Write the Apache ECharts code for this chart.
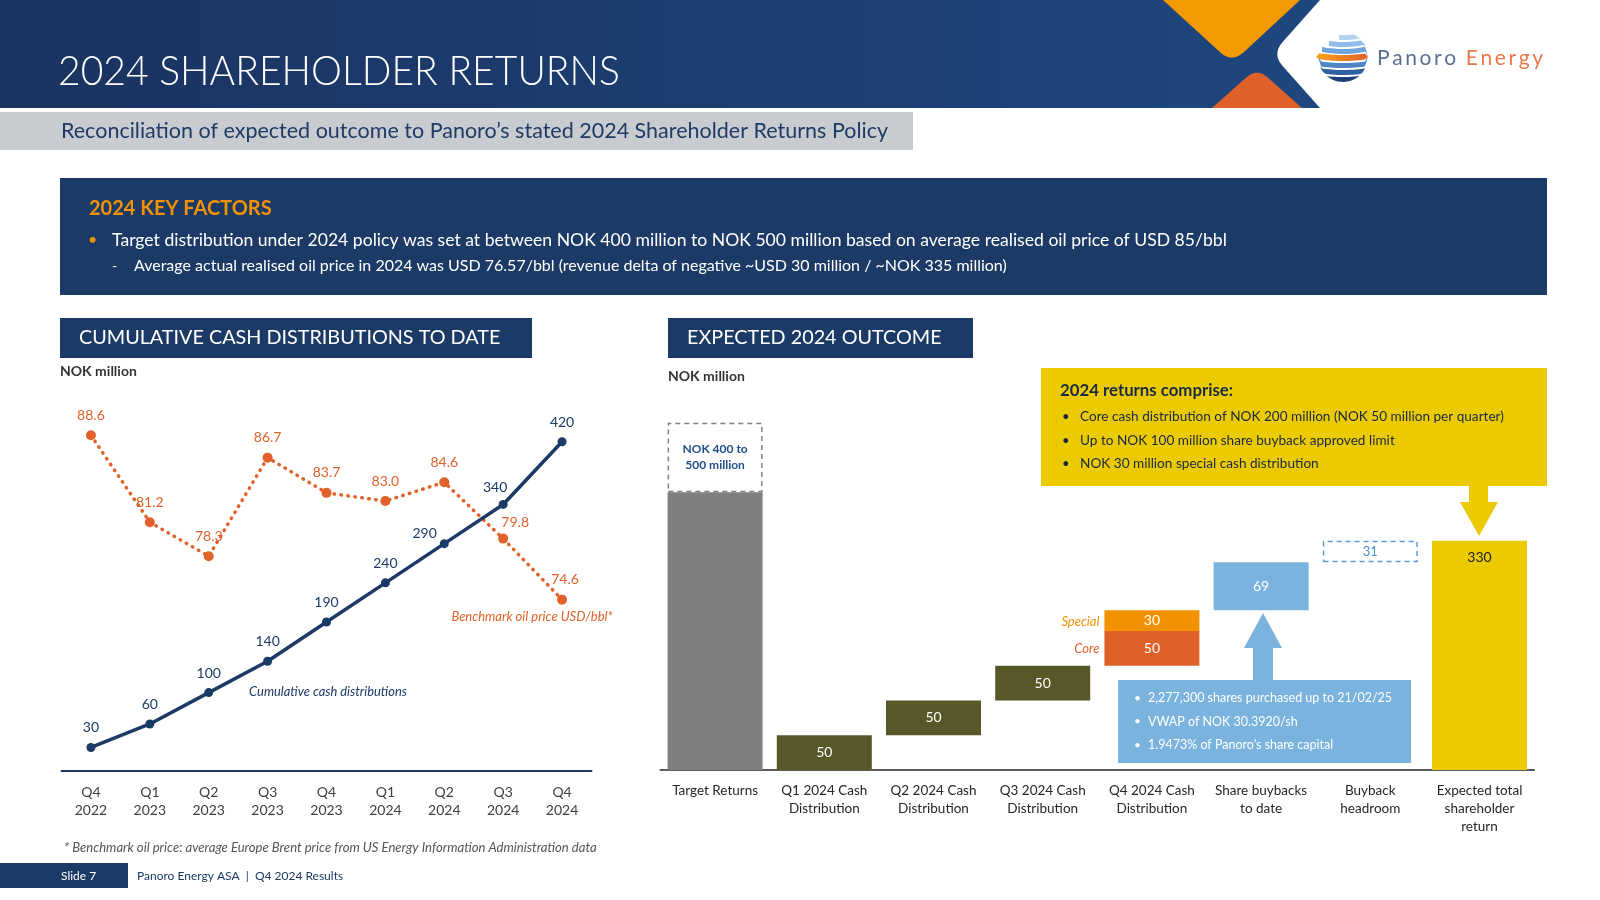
<!DOCTYPE html>
<html><head><meta charset="utf-8">
<script src="https://cdn.jsdelivr.net/npm/echarts@6/dist/echarts.min.js"></script>
<style>html,body{margin:0;padding:0;background:#fff}#c{width:1600px;height:900px}</style>
</head><body><div id="c"></div>
<script>
// ---------- DATA ----------
const quarters = ['Q4\n2022','Q1\n2023','Q2\n2023','Q3\n2023','Q4\n2023','Q1\n2024','Q2\n2024','Q3\n2024','Q4\n2024'];
const cumulativeDistributions = [30, 60, 100, 140, 190, 240, 290, 340, 420];
const benchmarkOilPrice = [88.6, 81.2, 78.3, 86.7, 83.7, 83.0, 84.6, 79.8, 74.6];

const outcomeCategories = ['Target Returns','Q1 2024 Cash\nDistribution','Q2 2024 Cash\nDistribution','Q3 2024 Cash\nDistribution','Q4 2024 Cash\nDistribution','Share buybacks\nto date','Buyback\nheadroom','Expected total\nshareholder\nreturn'];
const targetRange = [400, 500];
const coreDistributions = [50, 50, 50, 50];   // Q1..Q4 2024
const specialDistribution = 30;               // Q4 2024
const shareBuybacks = 69;
const buybackHeadroom = 31;
const expectedTotal = 330;

// ---------- BUILD WATERFALL ----------
const N = outcomeCategories.length;
const empty = () => new Array(N).fill('-');
const mainVals = [targetRange[0], ...coreDistributions, shareBuybacks, '-', expectedTotal];
const baseVals = new Array(N).fill(0);
let run = 0;
for (let i = 0; i < coreDistributions.length; i++) { baseVals[1 + i] = run; run += coreDistributions[i]; }
run += specialDistribution;
baseVals[5] = run; run += shareBuybacks;
baseVals[6] = run;
baseVals[7] = 0;
const specialVals = empty(); specialVals[4] = specialDistribution;
const headroomVals = empty(); headroomVals[6] = buybackHeadroom;
const targetExtraVals = empty(); targetExtraVals[0] = targetRange[1] - targetRange[0];

const FONT = 'Lato, "Open Sans", sans-serif';
const NAVY = '#1c3a66';
const ORANGE = '#e0622a';
const outcomeColors = ['#7f7f7f','#575728','#575728','#575728','#e0602a','#7ab3de','#ffffff','#ecca00'];

// ---------- helpers ----------
function rounded(pts, idxs, r){
  const out=[];
  pts.forEach((p,i)=>{
    if(!idxs.includes(i)){out.push(p);return;}
    const a=pts[(i-1+pts.length)%pts.length], b=pts[(i+1)%pts.length];
    const da=Math.hypot(a[0]-p[0],a[1]-p[1]), db=Math.hypot(b[0]-p[0],b[1]-p[1]);
    const p1=[p[0]+(a[0]-p[0])*r/da, p[1]+(a[1]-p[1])*r/da];
    const p2=[p[0]+(b[0]-p[0])*r/db, p[1]+(b[1]-p[1])*r/db];
    for(let k=0;k<=10;k++){const t=k/10,u=1-t;
      out.push([u*u*p1[0]+2*u*t*p[0]+t*t*p2[0], u*u*p1[1]+2*u*t*p[1]+t*t*p2[1]]);}
  });
  return out;
}
// curved stripe inside a circle (for the logo globe)
function band(cx,cy,r,y1,y2,xStart,bow){
  const top=[],bot=[];
  const x0=cx+xStart, x1=cx+r;
  for(let k=0;k<=16;k++){
    const x=x0+(x1-x0)*k/16; const dx=(x-cx)/r;
    const off=bow*(1-dx*dx);
    const lim=Math.sqrt(Math.max(0,r*r-(x-cx)*(x-cx)));
    const ya=Math.max(-lim, Math.min(lim, y1+off)), yb=Math.max(-lim, Math.min(lim, y2+off));
    top.push([x, cy+ya]); bot.push([x, cy+yb]);
  }
  return top.concat(bot.reverse());
}
function txt(x,y,text,o){
  o=o||{};
  const el = {type:'text', x:x, y:y, z:10, silent:true, style:Object.assign({text:text, fill:o.fill||'#333', font:(o.italic?'italic ':'')+(o.bold?'bold ':(o.weight?o.weight+' ':''))+(o.size||14)+'px '+FONT, textAlign:o.align||'left', textVerticalAlign:'middle'}, o.style||{})};
  if (o.scaleX) el.scaleX = o.scaleX;
  return el;
}

// ---------- static graphics ----------
const G = [];
G.push({type:'rect', shape:{x:0,y:0,width:1600,height:108}, silent:true, style:{fill:new echarts.graphic.LinearGradient(0,0,1,0,[{offset:0,color:'#1a3360'},{offset:1,color:'#1f4b85'}])}});
G.push({type:'polygon', silent:true, shape:{points:rounded([[1163,0],[1300,0],[1232,63]],[2],16)}, style:{fill:'#f39a00'}});
G.push({type:'polygon', silent:true, shape:{points:rounded([[1212,108],[1302,108],[1257,68]],[2],14)}, style:{fill:'#e0602a'}});
G.push({type:'polygon', silent:true, shape:{points:rounded([[1320,0],[1600,0],[1600,108],[1320,108],[1272,54]],[4],16)}, style:{fill:'#ffffff'}});
// globe logo
const gcx=1343, gcy=57, gr=25;
[[-25,-20,-4,3,'#b3d3f0'],[-18,-13,-14,3,'#8fbde8'],[-11,-6,-21,3,'#6ea6dc'],[-4,2,-27,2,null],[4,9,-25,2,'#4f86c6'],[11,16,-23,2,'#2f609f'],[18,25,-19,2,'#1f3f78']].forEach(b=>{
  const fill = b[4] || new echarts.graphic.LinearGradient(0,0,1,0,[{offset:0,color:'#f7a21b'},{offset:1,color:'#e0602a'}]);
  G.push({type:'polygon', silent:true, shape:{points:band(gcx,gcy,gr,b[0],b[1],b[2],b[3])}, style:{fill:fill}});
});
// header title + subtitle
G.push(txt(58,71,'2024 SHAREHOLDER RETURNS',{fill:'#ffffff',size:42,weight:300,scaleX:0.93}));
G.push({type:'rect', silent:true, shape:{x:0,y:112,width:913,height:38}, style:{fill:'#c8ccd0'}});
G.push(txt(61,131,'Reconciliation of expected outcome to Panoro\u2019s stated 2024 Shareholder Returns Policy',{fill:'#1f3a64',size:21.5}));
// key factors box
G.push({type:'rect', silent:true, shape:{x:60,y:178,width:1487,height:117}, style:{fill:'#1c3a66'}});
G.push(txt(89,209,'2024 KEY FACTORS',{fill:'#f39200',size:20,bold:true}));
G.push(txt(88,240,'\u2022',{fill:'#f39200',size:16}));
G.push(txt(112,240,'Target distribution under 2024 policy was set at between NOK 400 million to NOK 500 million based on average realised oil price of USD 85/bbl',{fill:'#ffffff',size:17.6}));
G.push(txt(112,266,'-',{fill:'#ffffff',size:14}));
G.push(txt(134,266,'Average actual realised oil price in 2024 was USD 76.57/bbl (revenue delta of negative ~USD 30 million / ~NOK 335 million)',{fill:'#ffffff',size:16}));
// section titles
G.push({type:'rect', silent:true, shape:{x:60,y:318,width:472,height:40}, style:{fill:'#1c3a66'}});
G.push(txt(79,338,'CUMULATIVE CASH DISTRIBUTIONS TO DATE',{fill:'#ffffff',size:19.8}));
G.push(txt(60,371,'NOK million',{fill:'#333333',size:14,bold:true}));
G.push({type:'rect', silent:true, shape:{x:668,y:318,width:305,height:40}, style:{fill:'#1c3a66'}});
G.push(txt(687,338,'EXPECTED 2024 OUTCOME',{fill:'#ffffff',size:19.8}));
G.push(txt(668,376,'NOK million',{fill:'#333333',size:14,bold:true}));
// left annotations
G.push(txt(532,617,'Benchmark oil price USD/bbl*',{fill:ORANGE,size:13,italic:true,align:'center'}));
G.push(txt(328,692,'Cumulative cash distributions',{fill:NAVY,size:12.9,italic:true,align:'center'}));
G.push(txt(64,848,'* Benchmark oil price: average Europe Brent price from US Energy Information Administration data',{fill:'#555555',size:13.1,italic:true}));
// footer
G.push({type:'rect', silent:true, shape:{x:0,y:863,width:128,height:25}, style:{fill:'#1c3a66'}});
G.push(txt(61,876,'Slide 7',{fill:'#ffffff',size:12}));
G.push(txt(137,876,'Panoro Energy ASA  |  Q4 2024 Results',{fill:'#1c3a66',size:12}));
// yellow callout
G.push({type:'rect', silent:true, shape:{x:1041,y:368,width:506,height:118}, style:{fill:'#ecca00'}});
G.push(txt(1060,391,'2024 returns comprise:',{fill:'#1a2a44',size:16.8,bold:true}));
['Core cash distribution of NOK 200 million (NOK 50 million per quarter)','Up to NOK 100 million share buyback approved limit','NOK 30 million special cash distribution'].forEach((s,i)=>{
  G.push(txt(1062,417+i*23.5,'\u2022',{fill:'#1a2a44',size:13}));
  G.push(txt(1080,417+i*23.5,s,{fill:'#1a2a44',size:13.6}));
});
G.push({type:'rect', silent:true, shape:{x:1469,y:485,width:19,height:18}, style:{fill:'#ecca00'}});
G.push({type:'polygon', silent:true, shape:{points:[[1460,502],[1498,502],[1479,536]]}, style:{fill:'#ecca00'}});
// blue callout
G.push({type:'rect', silent:true, shape:{x:1118,y:680,width:293,height:83}, style:{fill:'#7ab3de'}});
['2,277,300 shares purchased up to 21/02/25','VWAP of NOK 30.3920/sh','1.9473% of Panoro\u2019s share capital'].forEach((s,i)=>{
  G.push(txt(1134,698+i*23.5,'\u2022',{fill:'#ffffff',size:12}));
  G.push(txt(1148,698+i*23.5,s,{fill:'#ffffff',size:12.5}));
});
G.push({type:'rect', silent:true, shape:{x:1253,y:646,width:20,height:35}, style:{fill:'#7ab3de'}});
G.push({type:'polygon', silent:true, shape:{points:[[1244,648],[1282,648],[1263,613]]}, style:{fill:'#7ab3de'}});

// logo text with letter spacing
(function(){
  const ctx=document.createElement('canvas').getContext('2d');
  const f='21px '+FONT; ctx.font=f;
  let x=1377;
  const put=(word,color)=>{ for(const ch of word){ G.push({type:'text',x:x,y:58,silent:true,style:{text:ch,fill:color,font:f,textVerticalAlign:'middle'}}); x+=ctx.measureText(ch).width+2.6; } };
  put('Panoro','#5b6f90'); x+=7; put('Energy','#e8784a');
})();

// ---------- CHART ----------
const chart = echarts.init(document.getElementById('c'), null, {renderer:'canvas'});
const blueLabelFix = {6:{position:'left',distance:3,offset:[0,-10]}, 7:{position:'top',offset:[-8,3]}};
const orangeLabelFix = {7:{position:'top',offset:[12,4]}, 8:{position:'top',offset:[3,0]}};

const option = {
  animation:false,
  textStyle:{fontFamily:FONT},
  grid:[
    {left:61.5, top:379, width:530, height:392},
    {left:660.5, top:388, width:873.6, height:382}
  ],
  xAxis:[
    {type:'category', gridIndex:0, data:quarters, boundaryGap:true,
     axisLine:{lineStyle:{color:NAVY,width:2}}, axisTick:{show:false},
     axisLabel:{color:'#404040', fontSize:14, lineHeight:18, margin:12, interval:0}},
    {type:'category', gridIndex:1, data:outcomeCategories, boundaryGap:true,
     axisLine:{lineStyle:{color:'#595959',width:2}}, axisTick:{show:false},
     axisLabel:{color:'#262626', fontSize:13.5, lineHeight:18, margin:12, interval:0, verticalAlign:'top'}}
  ],
  yAxis:[
    {type:'value', gridIndex:0, min:0, max:500, show:false},
    {type:'value', gridIndex:0, min:60, max:93.4, show:false},
    {type:'value', gridIndex:1, min:0, max:550, show:false}
  ],
  series:[
    {type:'line', name:'Benchmark oil price', xAxisIndex:0, yAxisIndex:1, z:3,
     data: benchmarkOilPrice.map((v,i)=>({value:v, label:orangeLabelFix[i]||undefined})),
     symbol:'circle', symbolSize:10, itemStyle:{color:ORANGE},
     lineStyle:{color:ORANGE, width:3.5, type:[0.5,6.5], cap:'round'},
     label:{show:true, position:'top', distance:8, color:ORANGE, fontSize:14, formatter:p=>p.value.toFixed(1)}},
    {type:'line', name:'Cumulative cash distributions', xAxisIndex:0, yAxisIndex:0, z:4,
     data: cumulativeDistributions.map((v,i)=>({value:v, label:blueLabelFix[i]||undefined})),
     symbol:'circle', symbolSize:9, itemStyle:{color:NAVY},
     lineStyle:{color:NAVY, width:3.5},
     label:{show:true, position:'top', distance:8, color:NAVY, fontSize:14}},
    // waterfall
    {type:'bar', name:'base', xAxisIndex:1, yAxisIndex:2, stack:'w', barWidth:95, silent:true,
     itemStyle:{color:'rgba(0,0,0,0)'}, data:baseVals},
    {type:'bar', name:'main', xAxisIndex:1, yAxisIndex:2, stack:'w', barWidth:95,
     data: mainVals.map((v,i)=>({value:v, itemStyle:{color:outcomeColors[i]},
       label: i===0 ? {show:false} : (i===7 ? {show:true, position:'insideTop', distance:10, color:'#222'} : {show:true, position:'inside', color:'#ffffff'})})),
     label:{show:true, fontSize:14}},
    {type:'bar', name:'special', xAxisIndex:1, yAxisIndex:2, stack:'w', barWidth:95,
     itemStyle:{color:'#f39200'}, data:specialVals,
     label:{show:true, position:'inside', color:'#ffffff', fontSize:14}},
    {type:'bar', name:'headroom', xAxisIndex:1, yAxisIndex:2, stack:'w', barWidth:95,
     itemStyle:{color:'#ffffff', borderColor:'#5b9bd5', borderWidth:1.5, borderType:[5,4]}, data:headroomVals,
     label:{show:true, position:'inside', color:'#4a8fd4', fontSize:13}},
    {type:'bar', name:'target range', xAxisIndex:1, yAxisIndex:2, stack:'w', barWidth:95,
     itemStyle:{color:'#ffffff', borderColor:'#808080', borderWidth:1.5, borderType:[5,4]}, data:targetExtraVals,
     label:{show:true, position:'inside', color:'#1f4e8c', fontSize:12, fontWeight:'bold', lineHeight:16,
            formatter:()=>'NOK '+targetRange[0]+' to\n'+targetRange[1]+' million'}}
  ],
  graphic: G
};
chart.setOption(option);

// Special / Core side labels located via the axis scales
const half = 95/2;
const pSpecial = chart.convertToPixel({xAxisIndex:1, yAxisIndex:2}, [4, baseVals[4] + coreDistributions[3] + specialDistribution/2]);
const pCore = chart.convertToPixel({xAxisIndex:1, yAxisIndex:2}, [4, baseVals[4] + coreDistributions[3]/2]);
G.push(txt(pSpecial[0]-half-5, pSpecial[1]+1, 'Special', {fill:'#f39200', size:13, italic:true, align:'right'}));
G.push(txt(pCore[0]-half-5, pCore[1], 'Core', {fill:'#e0602a', size:13, italic:true, align:'right'}));
chart.setOption({graphic:G});
</script></body></html>
